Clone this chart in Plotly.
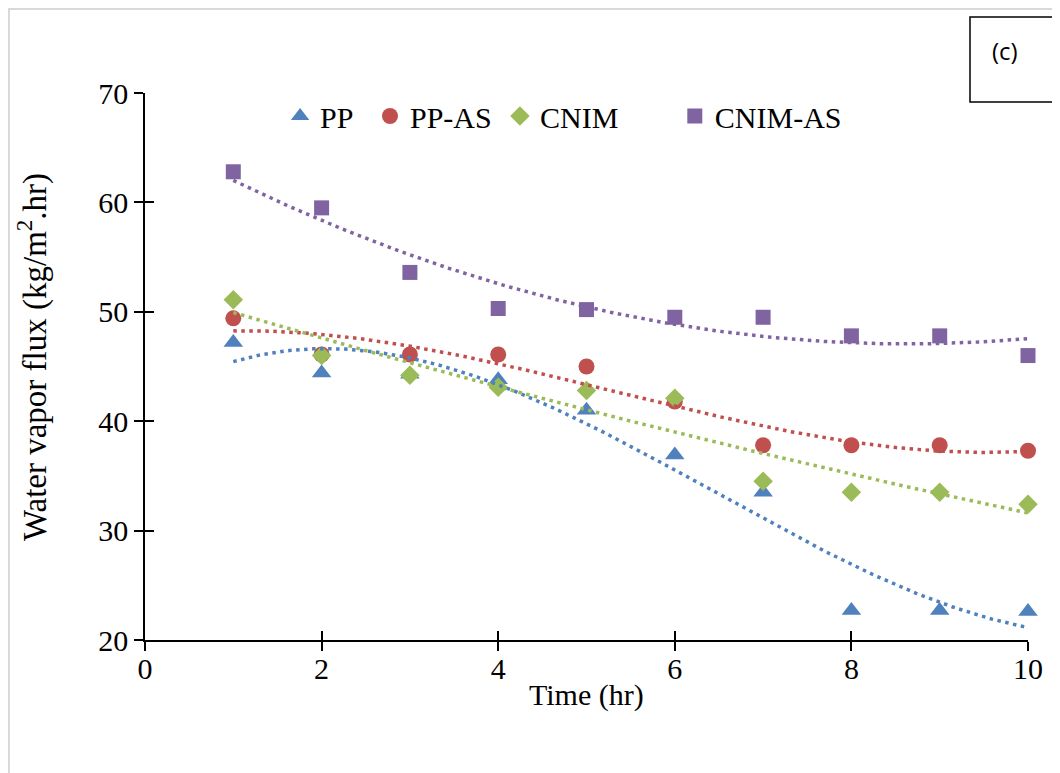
import numpy as np
import plotly.graph_objects as go

time_hr = [1, 2, 3, 4, 5, 6, 7, 8, 9, 10]
pp = [47.2, 44.4, 44.3, 43.8, 41.0, 36.9, 33.5, 22.7, 22.7, 22.6]
pp_as = [49.4, 46.1, 46.1, 46.1, 45.0, 41.8, 37.8, 37.8, 37.8, 37.3]
cnim = [51.1, 46.0, 44.2, 43.1, 42.8, 42.1, 34.5, 33.5, 33.5, 32.4]
cnim_as = [62.8, 59.5, 53.6, 50.3, 50.2, 49.5, 49.5, 47.8, 47.8, 46.0]

series_names = ["PP", "PP-AS", "CNIM", "CNIM-AS"]
series_vals = [pp, pp_as, cnim, cnim_as]
colors = ["#4F81BD", "#C0504D", "#9BBB59", "#8064A2"]
symbols = ["triangle-up", "circle", "diamond", "square"]
msizes = [17, 16, 15, 15]
trend_orders = [3, 3, 2, 2]

x_ticks = [0, 2, 4, 6, 8, 10]
y_ticks = [20, 30, 40, 50, 60, 70]

FONT = "Liberation Serif"

# page body has an 8px margin: plot area is placed so that on screen it spans
# x 145..1028 and y 93..640
OFF = 8
PL, PR, PT, PB = 145, 1028, 93, 640
PW, PH = PR - PL, PB - PT


def px(xs):
    return (xs - PL) / PW


def py(ys):
    return (PB - ys) / PH


fig = go.Figure()

legend_names = ["legend", "legend2", "legend3", "legend4"]
for name, vals, c, s, ms, lg in zip(series_names, series_vals, colors, symbols, msizes, legend_names):
    fig.add_trace(go.Scatter(
        x=time_hr, y=vals, mode="markers", name=name, cliponaxis=False,
        marker=dict(symbol=s, size=ms, color=c, line=dict(width=0)),
        legend=lg,
    ))

xs = np.linspace(min(time_hr), max(time_hr), 200)
for name, vals, c, order in zip(series_names, series_vals, colors, trend_orders):
    coef = np.polyfit(time_hr, vals, order)
    fig.add_trace(go.Scatter(
        x=xs, y=np.polyval(coef, xs), mode="lines", showlegend=False, cliponaxis=False,
        line=dict(color=c, width=3.5, dash="3.5px,4.5px"), hoverinfo="skip",
    ))

# invisible trace carrying the overlay axes (inside tick marks -> cross ticks)
fig.add_trace(go.Scatter(x=[5], y=[45], xaxis="x2", yaxis="y2", mode="markers",
                         marker=dict(opacity=0, size=1),
                         showlegend=False, hoverinfo="skip"))

axis_common = dict(showgrid=False, zeroline=False, linecolor="black", linewidth=1.5,
                   tickcolor="black", tickwidth=1.5, ticklen=9,
                   tickfont=dict(family=FONT, size=30, color="black"))

fig.update_layout(
    width=1060, height=773,
    margin=dict(l=PL - OFF, r=1060 - (PR - OFF), t=PT - OFF, b=773 - (PB - OFF)),
    paper_bgcolor="white", plot_bgcolor="white",
    xaxis=dict(range=[0, 10], tickvals=x_ticks, ticks="outside", showline=True,
               ticklabelstandoff=-8, **axis_common),
    yaxis=dict(range=[20, 70], tickvals=y_ticks, ticks="outside", showline=True,
               **axis_common),
    xaxis2=dict(range=[0, 10], tickvals=x_ticks, ticks="inside", overlaying="x",
                showticklabels=False, showline=False, showgrid=False, zeroline=False,
                tickcolor="black", tickwidth=1.5, ticklen=9, anchor="y2", side="bottom"),
    yaxis2=dict(range=[20, 70], tickvals=y_ticks, ticks="inside", overlaying="y",
                showticklabels=False, showline=False, showgrid=False, zeroline=False,
                tickcolor="black", tickwidth=1.5, ticklen=9, anchor="x2", side="left"),
)

leg_x = [0.153, 0.2548, 0.402, 0.600]
for lg, lx in zip(legend_names, leg_x):
    fig.update_layout({lg: dict(x=lx, y=0.958, xanchor="left", yanchor="middle",
                                orientation="h", bgcolor="rgba(0,0,0,0)",
                                font=dict(family=FONT, size=30, color="black"))})

# axis titles
fig.add_annotation(text="Time (hr)", xref="paper", yref="paper",
                   x=px(586), y=py(695), showarrow=False,
                   xanchor="center", yanchor="middle",
                   font=dict(family=FONT, size=30, color="black"))
fig.add_annotation(text="Water vapor flux (kg/m<sup>2</sup>.hr)", xref="paper", yref="paper",
                   x=px(32), y=py(357), showarrow=False, textangle=-90,
                   xanchor="center", yanchor="middle",
                   font=dict(family=FONT, size=33, color="black"))

# outer light frame
fig.add_shape(type="rect", xref="paper", yref="paper",
              x0=px(9), x1=px(1075), y0=py(790), y1=py(9),
              line=dict(color="#D9D9D9", width=2), fillcolor="rgba(0,0,0,0)", layer="below")
# (c) label box
fig.add_shape(type="rect", xref="paper", yref="paper",
              x0=px(970), x1=px(1058), y0=py(102), y1=py(17),
              line=dict(color="black", width=1.5), fillcolor="white")
fig.add_annotation(text="(c)", xref="paper", yref="paper",
                   x=px(1005), y=py(50), showarrow=False,
                   xanchor="center", yanchor="middle",
                   font=dict(family="Open Sans", size=24, color="black"))

fig.write_html("out.html")
